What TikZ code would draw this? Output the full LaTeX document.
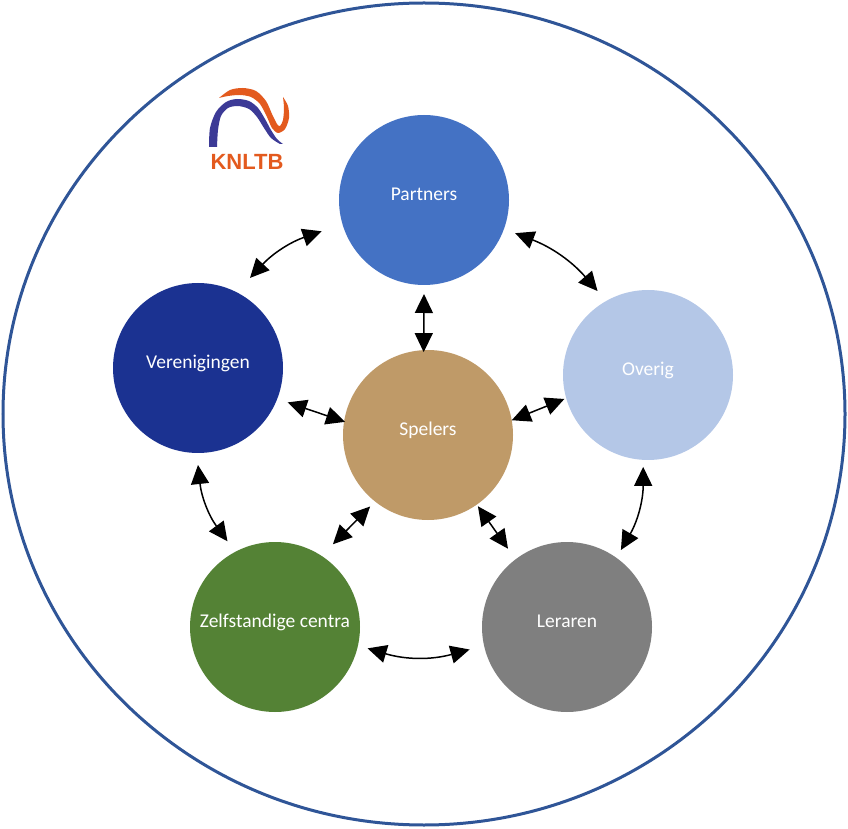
\documentclass[tikz,border=0pt]{standalone}
\usepackage{fontspec}
\setmainfont{Carlito}
\newfontfamily\logofont{Liberation Sans}
\usetikzlibrary{arrows.meta}
\definecolor{ringblue}{HTML}{2F5597}
\definecolor{partnerblue}{HTML}{4472C4}
\definecolor{verenigingblue}{HTML}{1B3291}
\definecolor{overiglight}{HTML}{B4C7E7}
\definecolor{spelersbrown}{HTML}{BF9A68}
\definecolor{centragreen}{HTML}{548235}
\definecolor{lerarengrey}{HTML}{7F7F7F}
\definecolor{logoorange}{HTML}{E35A1E}
\definecolor{logoblue}{HTML}{3C3A96}
\tikzset{%
  actor/.style = {shape=circle, minimum size=170pt, inner sep=0pt,%
                  text=white, font=\fontsize{19.5}{23}\selectfont,%
                  text height=0.65em, text depth=0.55em},%
  link/.style  = {{Triangle[length=19pt,width=18pt]}-{Triangle[length=19pt,width=18pt]},%
                  line width=1.5pt, black},%
  logotext/.style = {font=\logofont\bfseries\fontsize{22}{26}\selectfont,%
                     text=logoorange, inner sep=0pt}%
}
\begin{document}
\begin{tikzpicture}[x=1pt,y=1pt]
		\useasboundingbox (0,0) rectangle (848,828);
		\draw[ringblue, line width=3pt] (424,414) ellipse [x radius=421, y radius=411];
		\node[actor, fill=partnerblue]    (partners)     at (424,628) {Partners};
		\node[actor, fill=verenigingblue] (verenigingen) at (198,460) {Verenigingen};
		\node[actor, fill=overiglight]    (overig)       at (648,453) {Overig};
		\node[actor, fill=spelersbrown]   (spelers)      at (428,393) {Spelers};
		\node[actor, fill=centragreen]    (centra)       at (275,201) {Zelfstandige centra};
		\node[actor, fill=lerarengrey]    (leraren)      at (567,201) {Leraren};
		\draw[link] ([shift={(60:104)}]verenigingen.center) to[bend left=14] ([shift={(197:107)}]partners.center);
		\draw[link] ([shift={(-20:97)}]partners.center) to[bend left=14] ([shift={(121:98)}]overig.center);
		\draw[link] ([shift={(-90:94)}]partners.center) -- ([shift={(93:83)}]spelers.center);
		\draw[link] ([shift={(-21:96)}]verenigingen.center) -- ([shift={(171:84)}]spelers.center);
		\draw[link] ([shift={(10:85)}]spelers.center) -- ([shift={(196:87)}]overig.center);
		\draw[link] ([shift={(-90:97)}]verenigingen.center) to[bend right=15] ([shift={(119:98)}]centra.center);
		\draw[link] ([shift={(231:92)}]spelers.center) -- ([shift={(55:101)}]centra.center);
		\draw[link] ([shift={(-55:87)}]spelers.center) -- ([shift={(127:98)}]leraren.center);
		\draw[link] ([shift={(-93:92)}]overig.center) to[bend left=15] ([shift={(55:94)}]leraren.center);
		\draw[link] ([shift={(-13:95)}]centra.center) to[bend right=16] ([shift={(193:100)}]leraren.center);
		\begin{scope}[shift={(0,828)}, yscale=-1]
			\fill[logoblue] plot[smooth] coordinates {(209,147) (210,128) (216,112) (226,102) (237,99)
				(249,101) (258,108) (265,119) (271,130) (277,139) (283,144)}
				-- plot[smooth] coordinates {(280,144) (271,138) (264,128) (257,117) (249,109)
				(238,106) (228,108) (221,116) (218,130) (217,147)} -- cycle;
			\fill[logoorange] plot[smooth] coordinates {(219,98) (230,90) (243,88) (256,91) (266,101)
				(272,114) (277,124) (280,126) (283,120) (284,108) (283,97)}
				-- plot[smooth] coordinates {(283,97) (288,106) (289,118) (285,129) (278,133)
				(272,128) (267,117) (260,104) (251,97) (240,95) (228,96) (219,98)} -- cycle;
		\end{scope}
		\node[logotext] (knltb) at (247,666) {KNLTB};
\end{tikzpicture}
\end{document}
